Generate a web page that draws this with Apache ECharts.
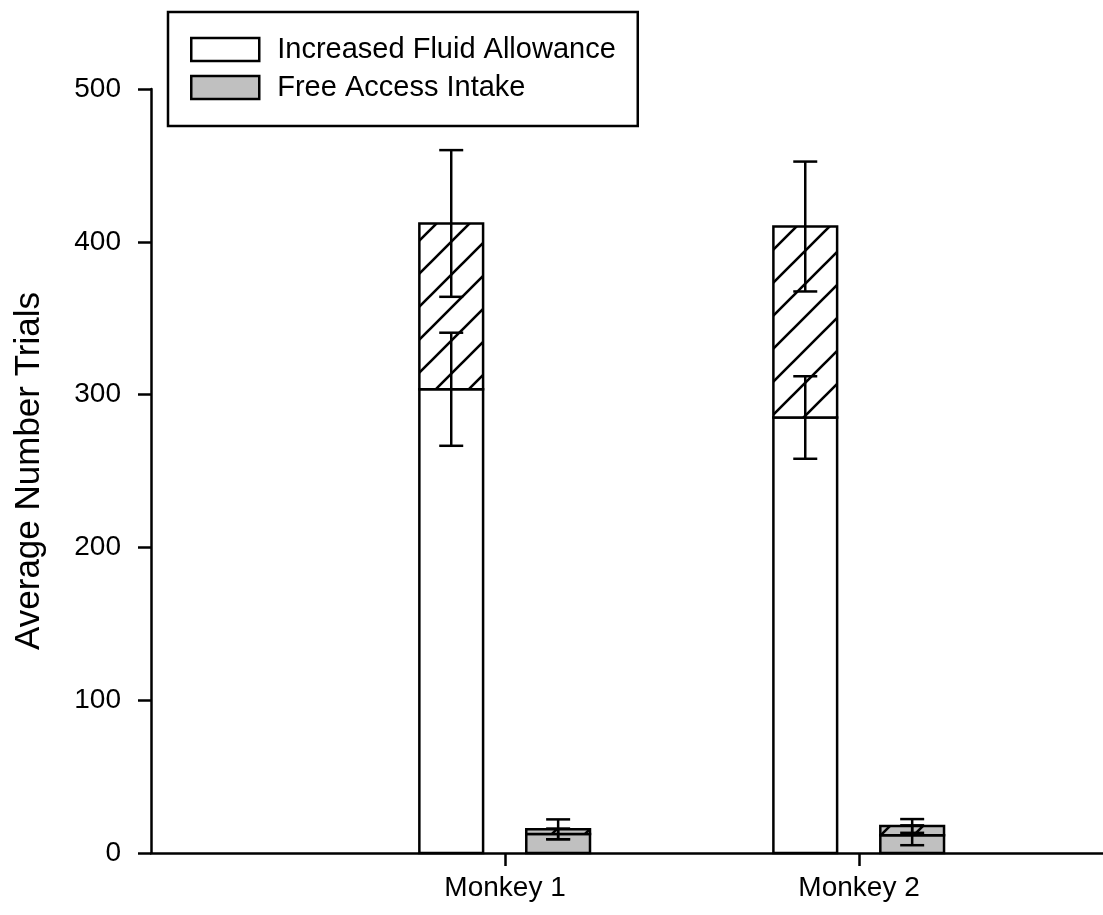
<!DOCTYPE html>
<html>
<head>
<meta charset="utf-8">
<script src="https://cdn.jsdelivr.net/npm/echarts@6/dist/echarts.min.js"></script>
<style>
html,body{margin:0;padding:0;background:#fff;}
#chart{width:1103px;height:915px;}
</style>
</head>
<body>
<div id="chart"></div>
<script>
// ---- data ----
const categories = ['Monkey 1', 'Monkey 2'];
const categoryPositions = [1, 2];
const seriesNames = ['Increased Fluid Allowance', 'Free Access Intake'];
// Increased Fluid Allowance: lower (plain) segment and total (hatched top)
const ifaBase = [303.5, 285];
const ifaBaseErr = [37, 27];
const ifaTotal = [412, 410];
const ifaTotalErr = [48, 42.5];
// Free Access Intake
const faiBase = [12.5, 11.6];
const faiBaseErr = [3.5, 6.5];
const faiTotal = [15.5, 17.7];
const faiTotalErr = [6.5, 4.5];
const yTicks = [0, 100, 200, 300, 400, 500];

// ---- styles ----
const FONT = 'Liberation Sans, Arial, sans-serif';
const GRAY = '#c0c0c0';
const LW = 2.5;
function makeHatch(bg) {
  const s = 33;
  const c = document.createElement('canvas');
  c.width = s; c.height = s;
  const ctx = c.getContext('2d');
  ctx.fillStyle = bg; ctx.fillRect(0, 0, s, s);
  ctx.strokeStyle = '#000'; ctx.lineWidth = 2.6;
  ctx.beginPath();
  ctx.moveTo(-3, s + 3); ctx.lineTo(s + 3, -3);
  ctx.moveTo(-3, 3); ctx.lineTo(3, -3);
  ctx.moveTo(s - 3, s + 3); ctx.lineTo(s + 3, s - 3);
  ctx.stroke();
  return c;
}
const hatchWhite = makeHatch('#ffffff');
const hatchGray = makeHatch(GRAY);

function buildData(base, baseErr, total, totalErr) {
  return categoryPositions.map((p, i) => [p, base[i], baseErr[i], total[i], totalErr[i]]);
}

function makeRender(offsetFrac, fillColor, hatch) {
  return function (params, api) {
    const x = api.value(0);
    const base = api.value(1), bErr = api.value(2);
    const total = api.value(3), tErr = api.value(4);
    const unit = api.size([1, 0])[0];
    const w = unit * 0.18;
    const cx = api.coord([x, 0])[0] + unit * offsetFrac;
    const y0 = api.coord([x, 0])[1];
    const yb = api.coord([x, base])[1];
    const yt = api.coord([x, total])[1];
    const left = cx - w / 2;
    const cap = 12;
    const children = [
      { type: 'rect', shape: { x: left, y: yb, width: w, height: y0 - yb },
        style: { fill: fillColor, stroke: '#000', lineWidth: LW } },
      { type: 'rect', shape: { x: left, y: yt, width: w, height: yb - yt },
        style: { fill: { image: hatch, repeat: 'repeat' }, stroke: '#000', lineWidth: LW } }
    ];
    function errBar(v, e) {
      const ya = api.coord([x, v + e])[1];
      const yc = api.coord([x, v - e])[1];
      const st = { stroke: '#000', lineWidth: LW };
      children.push({ type: 'line', shape: { x1: cx, y1: ya, x2: cx, y2: yc }, style: st });
      children.push({ type: 'line', shape: { x1: cx - cap, y1: ya, x2: cx + cap, y2: ya }, style: st });
      children.push({ type: 'line', shape: { x1: cx - cap, y1: yc, x2: cx + cap, y2: yc }, style: st });
    }
    errBar(base, bErr);
    errBar(total, tErr);
    return { type: 'group', children };
  };
}

const chart = echarts.init(document.getElementById('chart'), null, { renderer: 'canvas' });
chart.setOption({
  animation: false,
  backgroundColor: '#fff',
  textStyle: { fontFamily: FONT },
  grid: { left: 151, right: 0, top: 89, bottom: 62, containLabel: false },
  legend: {
    orient: 'vertical',
    left: 168, top: 12,
    padding: [23, 22, 24, 22],
    borderColor: '#000', borderWidth: 2.5,
    itemWidth: 68, itemHeight: 23, itemGap: 9,
    textStyle: { fontFamily: FONT, fontSize: 29, color: '#000', padding: [0, 0, 0, 13] },
    data: [
      { name: seriesNames[0], icon: 'rect', itemStyle: { color: '#fff', borderColor: '#000', borderWidth: 2.5 } },
      { name: seriesNames[1], icon: 'rect', itemStyle: { color: GRAY, borderColor: '#000', borderWidth: 2.5 } }
    ],
    selectedMode: false
  },
  xAxis: {
    type: 'value', min: 0, max: 2.689,
    splitLine: { show: false },
    axisLine: { lineStyle: { color: '#000', width: LW } },
    axisTick: { show: true, length: 13, lineStyle: { color: '#000', width: LW }, customValues: categoryPositions },
    axisLabel: {
      customValues: categoryPositions,
      formatter: v => categories[categoryPositions.indexOf(Math.round(v))] || '',
      fontFamily: FONT, fontSize: 28, color: '#000', margin: 21
    }
  },
  yAxis: {
    type: 'value', min: yTicks[0], max: yTicks[yTicks.length - 1], interval: 100,
    name: 'Average Number Trials', nameLocation: 'middle', nameGap: 104,
    nameTextStyle: { fontFamily: FONT, fontSize: 35, color: '#000' },
    splitLine: { show: false },
    axisLine: { show: true, lineStyle: { color: '#000', width: LW } },
    axisTick: { show: true, length: 13, lineStyle: { color: '#000', width: LW } },
    axisLabel: { fontFamily: FONT, fontSize: 28, color: '#000', margin: 30 }
  },
  series: [
    {
      type: 'custom', name: seriesNames[0],
      itemStyle: { color: '#fff', borderColor: '#000' },
      encode: { x: 0, y: [1, 3] },
      data: buildData(ifaBase, ifaBaseErr, ifaTotal, ifaTotalErr),
      renderItem: makeRender(-0.152, '#ffffff', hatchWhite)
    },
    {
      type: 'custom', name: seriesNames[1],
      itemStyle: { color: GRAY, borderColor: '#000' },
      encode: { x: 0, y: [1, 3] },
      data: buildData(faiBase, faiBaseErr, faiTotal, faiTotalErr),
      renderItem: makeRender(0.15, GRAY, hatchGray)
    }
  ]
});
</script>
</body>
</html>
